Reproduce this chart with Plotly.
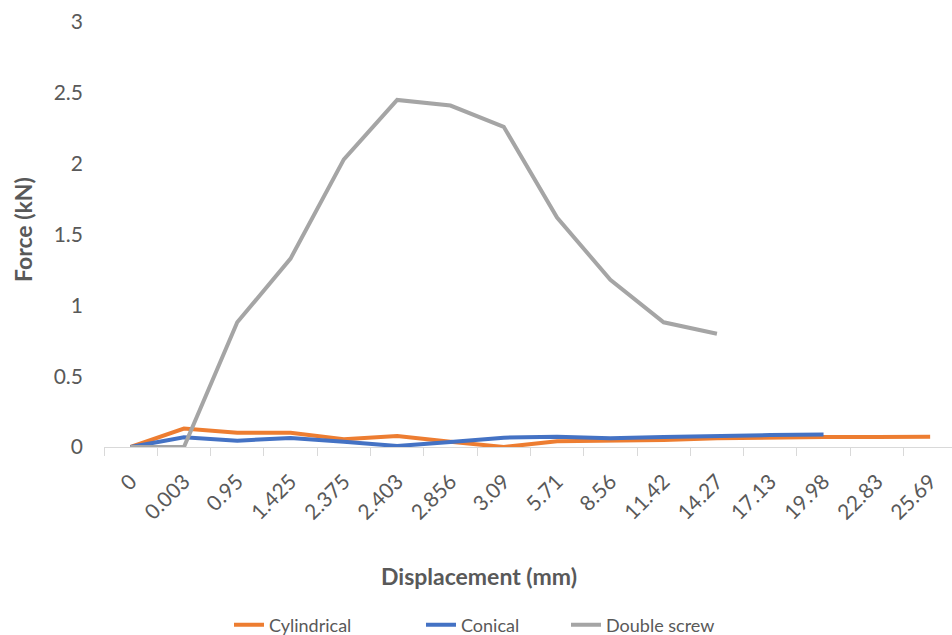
import plotly.graph_objects as go

# Displacement categories (mm), shown as evenly spaced category labels
displacement = ["0", "0.003", "0.95", "1.425", "2.375", "2.403", "2.856", "3.09",
                "5.71", "8.56", "11.42", "14.27", "17.13", "19.98", "22.83", "25.69"]

# Force readings (kN) for each screw type
cylindrical = [0, 0.13, 0.10, 0.10, 0.055, 0.077, 0.037, 0.0, 0.04, 0.045,
               0.05, 0.062, 0.068, 0.07, 0.07, 0.072]
conical = [0, 0.068, 0.045, 0.063, 0.037, 0.007, 0.035, 0.066, 0.073, 0.061,
           0.071, 0.08, 0.084, 0.088]
double_screw = [0, 0, 0.88, 1.33, 2.03, 2.45, 2.41, 2.26, 1.62, 1.18, 0.88, 0.80]

series = [
    ("Cylindrical", cylindrical, "#ED7D31", "legend"),
    ("Conical", conical, "#4472C4", "legend2"),
    ("Double screw", double_screw, "#A5A5A5", "legend3"),
]

FONT = "Lato"
GREY_TEXT = "#595959"

fig = go.Figure()
for name, values, color, leg in series:
    fig.add_trace(go.Scatter(
        x=displacement[:len(values)],
        y=values,
        mode="lines",
        name=name,
        legend=leg,
        line=dict(color=color, width=4),
    ))


def legend_box(x_px):
    # one single-entry legend per series, placed along the bottom row
    return dict(
        orientation="h",
        xref="container", yref="container",
        x=x_px / 952, xanchor="left",
        y=10 / 635, yanchor="middle",
        font=dict(family=FONT, size=18, color=GREY_TEXT),
        bgcolor="rgba(0,0,0,0)",
    )


fig.update_layout(
    width=952,
    height=635,
    paper_bgcolor="white",
    plot_bgcolor="white",
    margin=dict(l=104, r=0, t=22, b=188),
    font=dict(family=FONT, size=21, color=GREY_TEXT),
    showlegend=True,
    legend=legend_box(229),
    legend2=legend_box(421),
    legend3=legend_box(566),
    annotations=[
        dict(text="<b>Displacement (mm)</b>", xref="paper", yref="paper",
             x=(479 - 104) / 848, y=-(576 - 447) / 425, showarrow=False,
             xanchor="center", yanchor="middle",
             font=dict(family=FONT, size=23, color=GREY_TEXT)),
        dict(text="<b>Force (kN)</b>", xref="paper", yref="paper",
             x=-(104 - 23) / 848, y=(447 - 230) / 425, showarrow=False,
             textangle=-90, xanchor="center", yanchor="middle",
             font=dict(family=FONT, size=23, color=GREY_TEXT)),
    ],
)

fig.update_xaxes(
    type="category",
    categoryorder="array",
    categoryarray=displacement,
    range=[-0.5, 15.41],
    tickangle=-45,
    showgrid=False,
    showline=True,
    linecolor="#D9D9D9",
    linewidth=1,
    ticks="outside",
    tickson="boundaries",
    ticklen=8,
    tickcolor="#D9D9D9",
    ticklabelstandoff=13,
    tickfont=dict(family=FONT, size=21, color=GREY_TEXT),
    zeroline=False,
)

fig.update_yaxes(
    range=[0, 3],
    dtick=0.5,
    tick0=0,
    showgrid=False,
    showline=False,
    zeroline=False,
    ticks="",
    ticklabelstandoff=20,
    tickfont=dict(family=FONT, size=21, color=GREY_TEXT),
)

fig.write_html("out.html")
